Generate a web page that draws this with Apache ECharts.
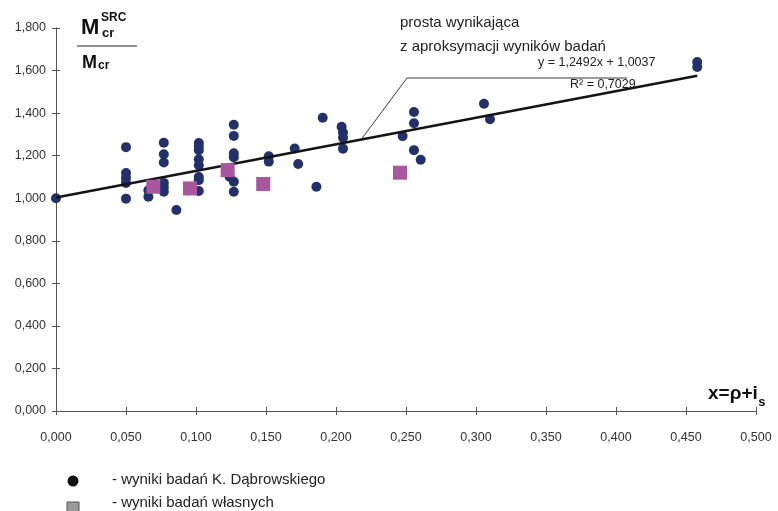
<!DOCTYPE html>
<html>
<head>
<meta charset="utf-8">
<script src="https://cdn.jsdelivr.net/npm/echarts@6/dist/echarts.min.js"></script>
<style>
  html, body { margin: 0; padding: 0; background: #fff; }
  #chart { width: 778px; height: 511px; }
</style>
</head>
<body>
<div id="chart"></div>
<script>
// Results of K. Dąbrowski: [x = rho + i_s, Mcr_SRC / Mcr]
const dabrowskiPoints = [
  [0.000, 1.000],
  [0.050, 1.240], [0.050, 1.118], [0.050, 1.095], [0.050, 1.072], [0.050, 0.998],
  [0.066, 1.037], [0.066, 1.007],
  [0.077, 1.261], [0.077, 1.207], [0.077, 1.168], [0.077, 1.072], [0.077, 1.051], [0.077, 1.031],
  [0.086, 0.945],
  [0.102, 1.259], [0.102, 1.243], [0.102, 1.226], [0.102, 1.183], [0.102, 1.155],
  [0.102, 1.100], [0.102, 1.085], [0.102, 1.034],
  [0.124, 1.101],
  [0.127, 1.345], [0.127, 1.293], [0.127, 1.211], [0.127, 1.193], [0.127, 1.078], [0.127, 1.030],
  [0.152, 1.197], [0.152, 1.172],
  [0.1705, 1.234], [0.173, 1.161],
  [0.186, 1.054], [0.1905, 1.378],
  [0.204, 1.336], [0.205, 1.309], [0.205, 1.284], [0.205, 1.233],
  [0.2476, 1.292], [0.2557, 1.405], [0.2557, 1.352], [0.2557, 1.226], [0.2605, 1.181],
  [0.3057, 1.444], [0.310, 1.371],
  [0.458, 1.640], [0.458, 1.617]
];

// Own test results
const ownPoints = [
  [0.0695, 1.054], [0.0957, 1.046], [0.1226, 1.132], [0.148, 1.067], [0.2457, 1.120]
];

// Linear approximation y = a*x + b
const trendSlope = 1.2492;
const trendIntercept = 1.0037;
const trendRange = [0.000, 0.458];
const trendR2 = '0,7029';

const xTicks = { min: 0, max: 0.5, interval: 0.05 };
const yTicks = { min: 0, max: 1.8, interval: 0.2 };

const trendLine = trendRange.map(x => [x, trendSlope * x + trendIntercept]);
const fmt3 = v => v.toFixed(3).replace('.', ',');
const fmt4 = v => v.toFixed(4).replace('.', ',');

const FONT = '"Liberation Sans", Arial, sans-serif';
const axisColor = '#555';

// width of a string in a given CSS font, used to place subscripts
const measureCtx = document.createElement('canvas').getContext('2d');
function textWidth(str, font) {
  measureCtx.font = font;
  return measureCtx.measureText(str).width;
}

const baseX = {
  type: 'value', min: xTicks.min, max: xTicks.max, interval: xTicks.interval,
  position: 'bottom', splitLine: { show: false },
  axisLine: { lineStyle: { color: axisColor, width: 1 } }
};
const baseY = {
  type: 'value', min: yTicks.min, max: yTicks.max, interval: yTicks.interval,
  position: 'left', offset: 0, splitLine: { show: false },
  axisLine: { lineStyle: { color: axisColor, width: 1 } }
};

const chart = echarts.init(document.getElementById('chart'), null, { renderer: 'canvas' });

chart.setOption({
  animation: false,
  backgroundColor: '#fff',
  grid: { left: 56, right: 22, top: 28, bottom: 100, containLabel: false, outerBoundsMode: 'none' },
  xAxis: [
    Object.assign({}, baseX, {
      axisTick: { show: true, inside: false, length: 4, lineStyle: { color: axisColor } },
      axisLabel: { margin: 20, color: '#333', fontSize: 12.5, fontFamily: FONT, formatter: fmt3 }
    }),
    Object.assign({}, baseX, {
      axisTick: { show: true, inside: true, length: 4, lineStyle: { color: axisColor } },
      axisLabel: { show: false }
    })
  ],
  yAxis: [
    Object.assign({}, baseY, {
      axisTick: { show: true, inside: false, length: 4, lineStyle: { color: axisColor } },
      axisLabel: { margin: 10, color: '#333', fontSize: 12.5, fontFamily: FONT, formatter: fmt3 }
    }),
    Object.assign({}, baseY, {
      axisTick: { show: true, inside: true, length: 4, lineStyle: { color: axisColor } },
      axisLabel: { show: false }
    })
  ],
  series: [
    {
      name: 'wyniki badań K. Dąbrowskiego',
      type: 'scatter', data: dabrowskiPoints, symbol: 'circle', symbolSize: 10,
      itemStyle: { color: '#23316b', opacity: 1 }, z: 2
    },
    {
      name: 'aproksymacja',
      type: 'line', data: trendLine, symbol: 'none', silent: true,
      lineStyle: { color: '#141414', width: 2.6 }, z: 3
    },
    {
      name: 'wyniki badań własnych',
      type: 'scatter', data: ownPoints, symbol: 'rect', symbolSize: 14,
      itemStyle: { color: '#a8579f', opacity: 1 }, z: 4
    }
  ]
});

// Annotation: leader line from the trend line to the caption
const anchorX = 0.218;
const anchor = chart.convertToPixel({ gridIndex: 0 }, [anchorX, trendSlope * anchorX + trendIntercept]);
const textColor = '#222';

const xTitleFont = 'bold 19px ' + FONT;
const xTitleLeft = 708;
const xTitleMain = 'x=ρ+i';

chart.setOption({
  graphic: [
    { type: 'polyline', shape: { points: [anchor, [407, 78], [627, 78]] },
      style: { stroke: '#222', lineWidth: 0.9, fill: null }, z: 10 },
    { type: 'text', left: 400, top: 15, style: { text: 'prosta wynikająca', font: '15px ' + FONT, fill: textColor } },
    { type: 'text', left: 400, top: 39, style: { text: 'z aproksymacji wyników badań', font: '15px ' + FONT, fill: textColor } },
    { type: 'text', left: 538, top: 56, style: { text: 'y = ' + fmt4(trendSlope) + 'x + ' + fmt4(trendIntercept), font: '12.5px ' + FONT, fill: textColor } },
    { type: 'text', left: 570, top: 78, style: { text: 'R² = ' + trendR2, font: '12.5px ' + FONT, fill: textColor } },

    // Y axis title: Mcr_SRC / Mcr
    { type: 'text', left: 81, top: 17, style: { text: 'M', font: 'bold 22px ' + FONT, fill: '#111' } },
    { type: 'text', left: 101, top: 12, style: { text: 'SRC', font: 'bold 12px ' + FONT, fill: '#111' } },
    { type: 'text', left: 102, top: 27, style: { text: 'cr', font: 'bold 13px ' + FONT, fill: '#111' } },
    { type: 'line', shape: { x1: 77, y1: 46, x2: 137, y2: 46 }, style: { stroke: '#222', lineWidth: 1 } },
    { type: 'text', left: 82, top: 54, style: { text: 'M', font: 'bold 18px ' + FONT, fill: '#111' } },
    { type: 'text', left: 98, top: 60, style: { text: 'cr', font: 'bold 12px ' + FONT, fill: '#111' } },

    // X axis title: x = rho + i_s
    { type: 'text', left: xTitleLeft, top: 384, style: { text: xTitleMain, font: xTitleFont, fill: '#111' } },
    { type: 'text', left: xTitleLeft + textWidth(xTitleMain, xTitleFont) + 0.5, top: 396,
      style: { text: 's', font: 'bold 13px ' + FONT, fill: '#111' } },

    // Legend
    { type: 'circle', shape: { cx: 73, cy: 481, r: 5.5 }, style: { fill: '#111' } },
    { type: 'text', left: 112, top: 472, style: { text: '- wyniki badań K. Dąbrowskiego', font: '15px ' + FONT, fill: textColor } },
    { type: 'rect', shape: { x: 67, y: 502, width: 12, height: 12 }, style: { fill: '#9a9a9a', stroke: '#555', lineWidth: 1 } },
    { type: 'text', left: 112, top: 495, style: { text: '- wyniki badań własnych', font: '15px ' + FONT, fill: textColor } }
  ]
});
</script>
</body>
</html>
